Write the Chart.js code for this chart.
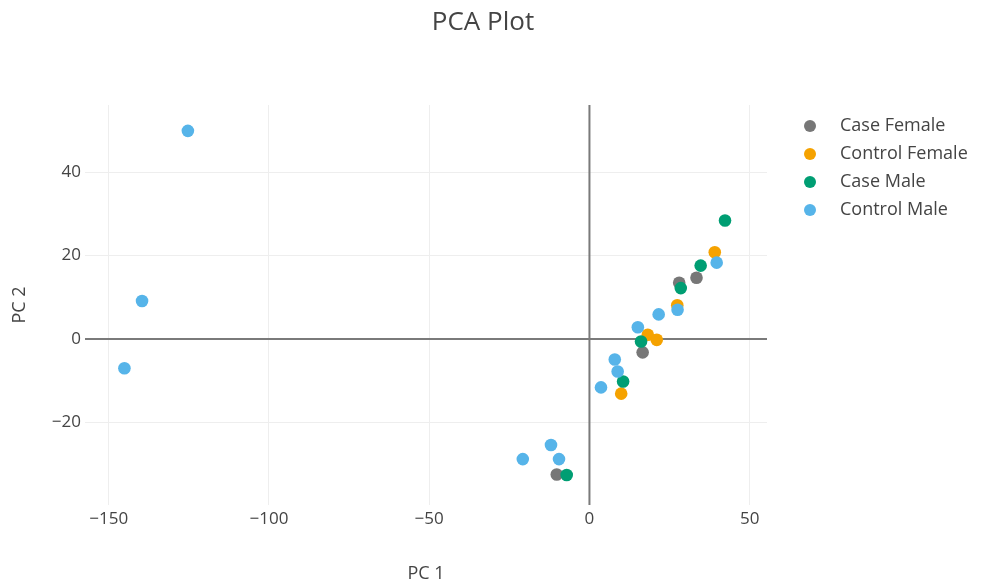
<!DOCTYPE html>
<html>
<head>
  <title>PCA Plot</title>
  <script src="https://cdn.jsdelivr.net/npm/chart.js"></script>
  <style>
    body {
      margin: 0;
      background-color: #fff;
    }

    .chart-container {
      width: 981px;
      height: 588px;
    }
  </style>
</head>
<body>
  <div class="chart-container">
    <canvas id="pcaChart" width="981" height="588"></canvas>
  </div>

  <script>
    const seriesNames = ['Case Female', 'Control Female', 'Case Male', 'Control Male'];
    const seriesColors = ['#777777', '#f5a200', '#009e73', '#56b4e9'];

    // PC 1 / PC 2 scores
    const caseFemaleX = [28.0, 33.4, 16.6, -10.2];
    const caseFemaleY = [13.5, 14.7, -3.2, -32.5];

    const controlFemaleX = [39.1, 27.4, 18.2, 21.0, 9.9];
    const controlFemaleY = [20.8, 8.1, 1.0, -0.2, -13.1];

    const caseMaleX = [42.3, 34.7, 28.5, 16.1, 10.5, -7.1];
    const caseMaleY = [28.4, 17.6, 12.2, -0.6, -10.2, -32.6];

    const controlMaleX = [39.7, 27.5, 21.6, 15.1, 7.9, 8.8, 3.6, -12.0, -20.8, -9.5, -125.3, -139.6, -145.1];
    const controlMaleY = [18.3, 7.0, 5.9, 2.8, -4.9, -7.8, -11.6, -25.4, -28.8, -28.8, 49.9, 9.1, -7.0];

    const xTicks = [-150, -100, -50, 0, 50];
    const yTicks = [-20, 0, 20, 40];

    const textColor = '#444';
    const fontFamily = '"Open Sans", sans-serif';

    function toPoints(xs, ys) {
      return xs.map((x, i) => ({ x: x, y: ys[i] }));
    }

    const seriesX = [caseFemaleX, controlFemaleX, caseMaleX, controlMaleX];
    const seriesY = [caseFemaleY, controlFemaleY, caseMaleY, controlMaleY];

    const datasets = seriesNames.map((name, i) => ({
      label: name,
      data: toPoints(seriesX[i], seriesY[i]),
      backgroundColor: seriesColors[i],
      borderWidth: 0,
      pointRadius: 6.3,
      pointHoverRadius: 6.3,
      order: seriesNames.length - i   // first trace drawn first, like plotly
    }));

    // zero lines go over the grid but under the points
    const zeroLinePlugin = {
      id: 'zeroLines',
      beforeDatasetsDraw(chart) {
        const { ctx, chartArea, scales } = chart;
        const x0 = scales.x.getPixelForValue(0);
        const y0 = scales.y.getPixelForValue(0);
        ctx.save();
        ctx.strokeStyle = '#7a7a7a';
        ctx.lineWidth = 2;
        ctx.beginPath();
        ctx.moveTo(x0, chartArea.top);
        ctx.lineTo(x0, chartArea.bottom);
        ctx.moveTo(chartArea.left, y0);
        ctx.lineTo(chartArea.right, y0);
        ctx.stroke();
        ctx.restore();
      }
    };

    // title + legend drawn outside the plot area
    const sidePlugin = {
      id: 'sideLegend',
      afterDraw(chart) {
        const ctx = chart.ctx;
        ctx.save();
        ctx.fillStyle = textColor;
        ctx.font = '26px ' + fontFamily;
        ctx.textAlign = 'center';
        ctx.textBaseline = 'middle';
        ctx.fillText('PCA Plot', 483, 23);

        ctx.font = '18px ' + fontFamily;
        ctx.textAlign = 'left';
        seriesNames.forEach((name, i) => {
          const y = 126 + i * 28;
          ctx.beginPath();
          ctx.fillStyle = seriesColors[i];
          ctx.arc(810, y, 6, 0, Math.PI * 2);
          ctx.fill();
          ctx.fillStyle = textColor;
          ctx.fillText(name, 840, y);
        });
        ctx.restore();
      }
    };

    const gridColor = '#eeeeee';
    const minusSign = (v) => String(v).replace('-', '\u2212');

    new Chart(document.getElementById('pcaChart').getContext('2d'), {
      type: 'scatter',
      data: { datasets: datasets },
      options: {
        responsive: false,
        animation: false,
        layout: {
          padding: { top: 105, right: 214, left: 0, bottom: 0 }
        },
        plugins: {
          legend: { display: false },
          tooltip: { enabled: false }
        },
        scales: {
          x: {
            type: 'linear',
            min: -157.4,
            max: 55.4,
            afterFit: (scale) => { scale.height = 83; },
            afterBuildTicks: (scale) => { scale.ticks = xTicks.map(v => ({ value: v })); },
            ticks: {
              color: textColor,
              font: { family: fontFamily, size: 17 },
              padding: 4,
              callback: minusSign
            },
            grid: { color: gridColor, lineWidth: 1, drawTicks: false },
            border: { display: false },
            title: {
              display: true,
              text: 'PC 1',
              color: textColor,
              font: { family: fontFamily, size: 18 },
              padding: { top: 0, bottom: 3 }
            }
          },
          y: {
            type: 'linear',
            min: -39.8,
            max: 56.1,
            afterFit: (scale) => { scale.width = 85; },
            afterBuildTicks: (scale) => { scale.ticks = yTicks.map(v => ({ value: v })); },
            ticks: {
              color: textColor,
              font: { family: fontFamily, size: 17 },
              padding: 4,
              callback: minusSign
            },
            grid: { color: gridColor, lineWidth: 1, drawTicks: false },
            border: { display: false },
            title: {
              display: true,
              text: 'PC 2',
              color: textColor,
              font: { family: fontFamily, size: 18 },
              padding: { top: 9, bottom: 0 }
            }
          }
        }
      },
      plugins: [zeroLinePlugin, sidePlugin]
    });
  </script>
</body>
</html>
